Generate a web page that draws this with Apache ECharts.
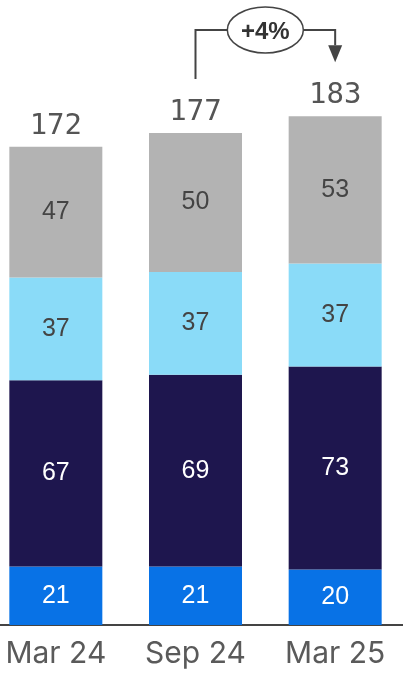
<!DOCTYPE html>
<html>
<head>
<meta charset="utf-8">
<script src="https://cdn.jsdelivr.net/npm/echarts@6/dist/echarts.min.js"></script>
<style>
  html, body { margin: 0; padding: 0; background: #ffffff; overflow: hidden; }
  body { width: 403px; height: 675px; position: relative; }
  /* the plot runs slightly past both edges of the page */
  #chart { position: absolute; left: -14px; top: 0; width: 419px; height: 675px; }
</style>
</head>
<body>
<div id="chart"></div>
<script>
// Periods on the x axis
const categories = ['Mar 24', 'Sep 24', 'Mar 25'];

// Stacked segments, bottom to top
const seriesBlue = [21, 21, 20];
const seriesNavy = [67, 69, 73];
const seriesLightBlue = [37, 37, 37];
const seriesGray = [47, 50, 53];

// Change shown in the bracket between the last two periods
const changeLabel = '+4%';

const totals = categories.map((_, i) =>
  seriesBlue[i] + seriesNavy[i] + seriesLightBlue[i] + seriesGray[i]);

const numFont = '"Liberation Sans", Arial, sans-serif';
const monoFont = '"DejaVu Sans Mono", monospace';

function segment(name, data, color, textColor) {
  return {
    name, type: 'bar', stack: 'total', data,
    barWidth: 93,
    itemStyle: { color },
    label: {
      show: true, position: 'inside',
      color: textColor, fontFamily: numFont, fontSize: 25
    },
    emphasis: { disabled: true }
  };
}

const chart = echarts.init(document.getElementById('chart'), null, { renderer: 'canvas' });

chart.setOption({
  animation: false,
  grid: { left: 0, right: 0, top: 69, bottom: 50 },
  xAxis: {
    type: 'category', data: categories,
    axisLine: { show: true, lineStyle: { color: '#444444', width: 2 } },
    axisTick: { show: false },
    axisLabel: { color: '#5a5a5a', fontFamily: 'Inter, sans-serif', fontSize: 30, margin: 14 }
  },
  yAxis: { type: 'value', min: 0, max: 200, show: false, splitLine: { show: false } },
  series: [
    segment('blue', seriesBlue, '#0872e6', '#ffffff'),
    segment('navy', seriesNavy, '#1e164e', '#ffffff'),
    segment('lightblue', seriesLightBlue, '#8adbf8', '#444444'),
    segment('gray', seriesGray, '#b3b3b3', '#444444'),
    {
      // invisible carrier for the total above each stack
      name: 'total', type: 'bar', stack: 'total',
      data: totals.map(() => 0),
      barWidth: 93,
      itemStyle: { color: 'transparent' },
      label: {
        show: true, position: 'top', distance: 6,
        formatter: p => totals[p.dataIndex],
        color: '#555555', fontFamily: monoFont, fontSize: 29
      },
      emphasis: { disabled: true }
    }
  ]
});

// Bracket from the Sep 24 total to the Mar 25 total
function drawBracket() {
  const a = chart.convertToPixel({ xAxisIndex: 0, yAxisIndex: 0 }, [1, totals[1]]);
  const b = chart.convertToPixel({ xAxisIndex: 0, yAxisIndex: 0 }, [2, totals[2]]);
  const lift = 54;
  const yTop = 30;
  const startY = a[1] - lift;
  const tipY = b[1] - lift;
  const midX = (a[0] + b[0]) / 2;
  const rx = 38, ry = 23, cy = 30;
  const head = 17;
  const stroke = '#444444';
  chart.setOption({
    graphic: [
      { type: 'polyline', shape: { points: [[a[0], startY], [a[0], yTop], [midX - rx, yTop]] },
        style: { stroke, lineWidth: 2, fill: null } },
      { type: 'polyline', shape: { points: [[midX + rx, yTop], [b[0], yTop], [b[0], tipY - head]] },
        style: { stroke, lineWidth: 2, fill: null } },
      { type: 'polygon', shape: { points: [[b[0] - 7, tipY - head], [b[0] + 7, tipY - head], [b[0], tipY]] },
        style: { fill: stroke } },
      { type: 'ellipse', shape: { cx: midX, cy, rx, ry },
        style: { stroke, lineWidth: 1.5, fill: '#ffffff' } },
      { type: 'text', x: midX, y: cy + 2,
        style: { text: changeLabel, fill: '#333333', font: 'bold 24px "Liberation Sans", Arial, sans-serif',
                 align: 'center', verticalAlign: 'middle' } }
    ]
  });
}
drawBracket();
</script>
</body>
</html>
